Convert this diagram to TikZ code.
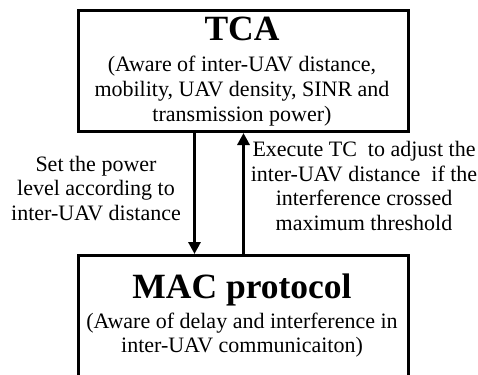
\documentclass[tikz,border=0pt]{standalone}
\usepackage{fontspec}
\setmainfont{Liberation Serif}
\usetikzlibrary{arrows.meta}
\begin{document}
\begin{tikzpicture}[x=1pt,y=-1pt,
  box/.style={draw,line width=3pt,minimum width=330pt,inner sep=0pt,anchor=north west},
  title/.style={font=\bfseries\fontsize{35.5}{40}\selectfont,anchor=base,inner sep=0pt},
  body/.style={font=\fontsize{22}{25}\selectfont,align=center,anchor=base,inner sep=0pt},
  label/.style={font=\fontsize{22}{24.5}\selectfont,align=center,anchor=base,inner sep=0pt},
  flow/.style={line width=3pt,-{Triangle[length=12pt,width=12pt]}}]
\useasboundingbox (0,0) rectangle (478,374);
% the two layers
\node[box,minimum height=121pt] (tca) at (77,9) {};
\node[box,minimum height=121pt] (mac) at (77,254) {};
% titles and descriptions (base = baseline of the last line)
\node[title] (tcatitle) at (242,41) {TCA};
\node[body] (tcabody) at (242,122) {(Aware of inter-UAV distance,\\mobility, UAV density, SINR and\\transmission power)};
\node[title] (mactitle) at (242,298) {MAC protocol};
\node[body,font=\fontsize{22}{24}\selectfont] (macbody) at (242,352) {(Aware of delay and interference in\\inter-UAV communicaiton)};
% interactions between the layers
\draw[flow] ([xshift=-49pt]tca.south) -- ([xshift=-49pt]mac.north);
\draw[flow] (mac.north) -- (tca.south);
\node[label] (setlbl) at (96,220) {Set the power\\level according to\\inter-UAV distance};
\node[label] (execlbl) at (364,230) {Execute TC\ \ to adjust the\\inter-UAV distance\ \ if the\\interference crossed\\maximum threshold};
\end{tikzpicture}
\end{document}
